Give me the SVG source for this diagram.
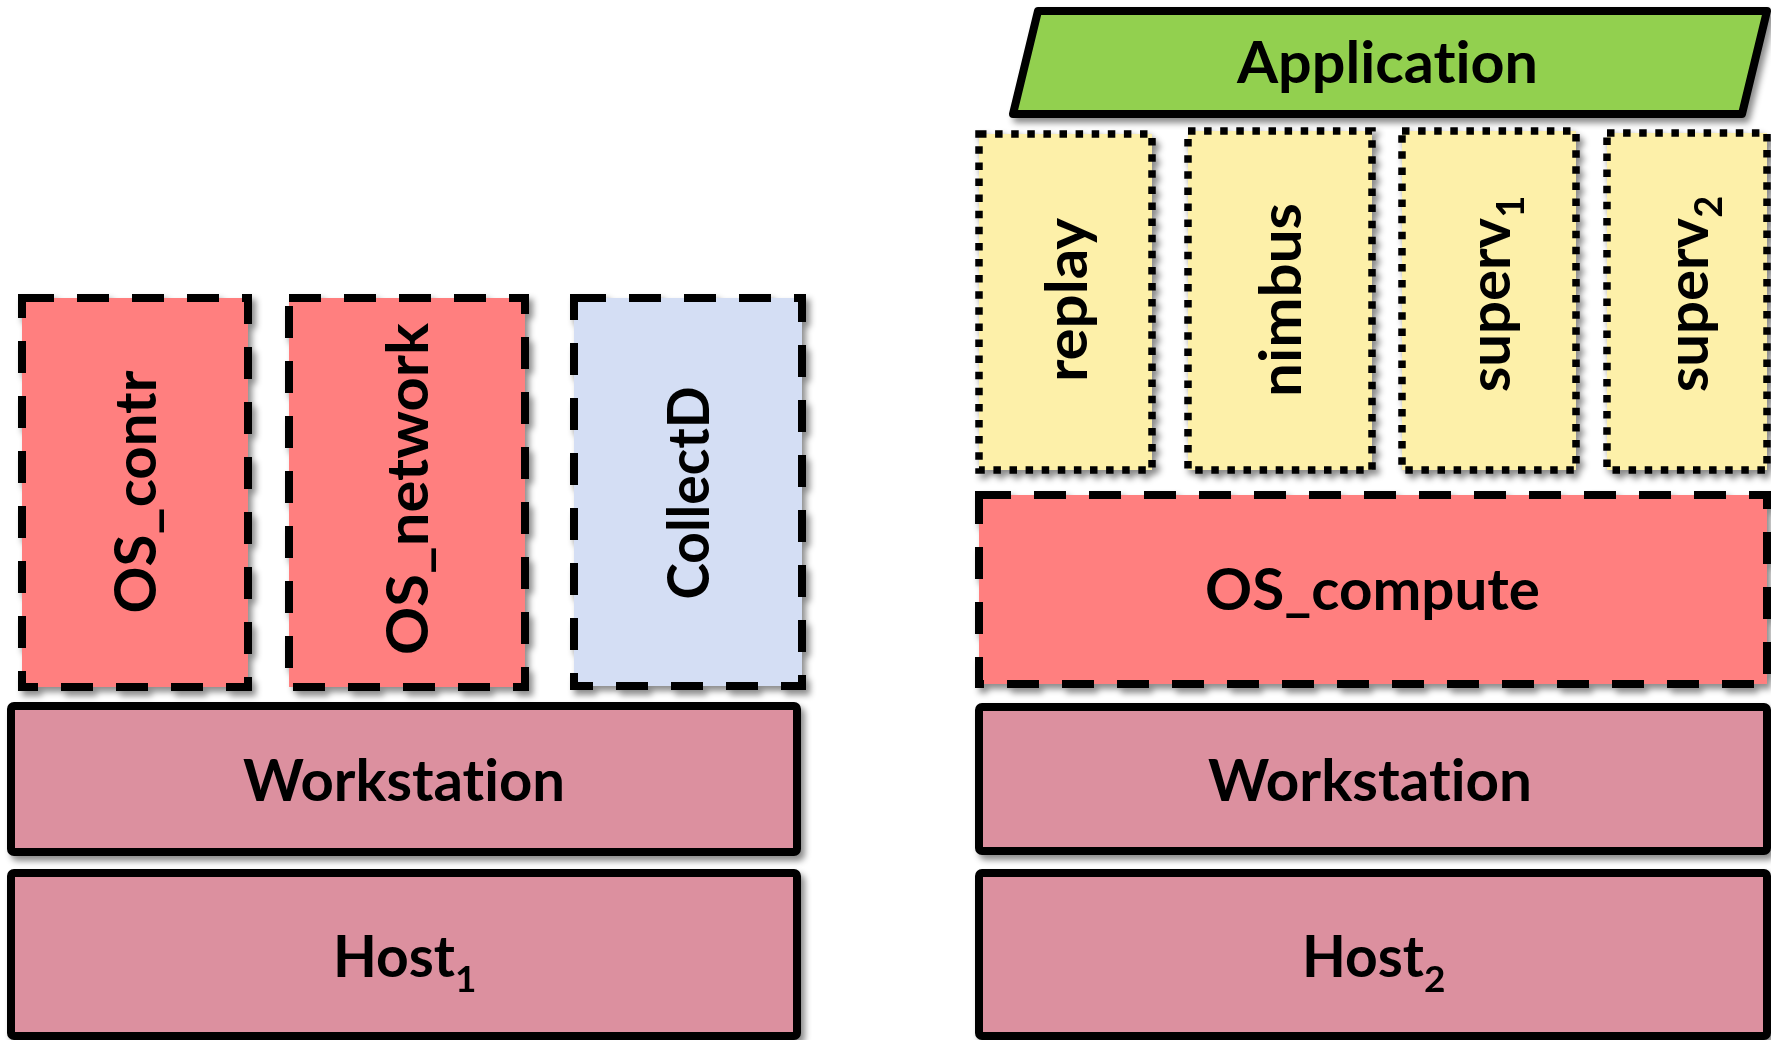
<svg xmlns="http://www.w3.org/2000/svg" width="1771" height="1040" viewBox="0 0 1771 1040">
  <defs>
    <filter id="shadow" x="-10%" y="-10%" width="125%" height="125%">
      <feDropShadow dx="4" dy="5" stdDeviation="3" flood-color="#000" flood-opacity="0.45"/>
    </filter>
    <style>
      .lbl { font-family: Lato, "Liberation Sans", sans-serif; font-weight: 700; fill: #000; font-variant-ligatures: none; font-feature-settings: "liga" 0, "clig" 0; }
      .solid { stroke: #000; stroke-width: 8; stroke-linejoin: round; }
      .dashed { stroke: #000; stroke-width: 8; stroke-dasharray: 32 23; }
      .dotted { stroke: #000; stroke-width: 7.5; stroke-dasharray: 7.5 8.6; }
      .os { fill: #FF7F7F; }
      .collect { fill: #D4DEF4; }
      .proc { fill: #FDF0A9; }
      .hw { fill: #DC909F; }
      .app { fill: #92D050; }
    </style>
  </defs>

  <rect width="1771" height="1040" fill="#FFFFFF"/>

  <!-- Host 1 stack -->
  <g id="os-contr" filter="url(#shadow)">
    <rect class="os dashed" x="22" y="298" width="226" height="389"/>
    <text class="lbl" font-size="57" text-anchor="middle" textLength="243" lengthAdjust="spacingAndGlyphs" transform="translate(135,492) rotate(-90)" x="0" y="21">OS_contr</text>
  </g>
  <g id="os-network" filter="url(#shadow)">
    <rect class="os dashed" x="289" y="298" width="236" height="389"/>
    <text class="lbl" font-size="57" text-anchor="middle" textLength="332" lengthAdjust="spacingAndGlyphs" transform="translate(407,489) rotate(-90)" x="0" y="21">OS_network</text>
  </g>
  <g id="collectd" filter="url(#shadow)">
    <rect class="collect dashed" x="574" y="298" width="228" height="388"/>
    <text class="lbl" font-size="57" text-anchor="middle" textLength="213" lengthAdjust="spacingAndGlyphs" transform="translate(688,493) rotate(-90)" x="0" y="21">CollectD</text>
  </g>
  <g id="workstation-1" filter="url(#shadow)">
    <rect class="hw solid" x="11" y="706" width="786" height="146" rx="3"/>
    <text class="lbl" font-size="57" x="243" y="801" textLength="322" lengthAdjust="spacingAndGlyphs">Workstation</text>
  </g>
  <g id="host-1" filter="url(#shadow)">
    <rect class="hw solid" x="11" y="873" width="786" height="163" rx="3"/>
    <text class="lbl" font-size="57" x="333" y="977">Host<tspan font-size="37" dy="15">1</tspan></text>
  </g>

  <!-- Host 2 stack -->
  <g id="application" filter="url(#shadow)">
    <polygon class="app solid" points="1038,11 1767,11 1742,114 1013,114"/>
    <text class="lbl" font-size="57" x="1237" y="83" textLength="301" lengthAdjust="spacingAndGlyphs">Application</text>
  </g>
  <g id="replay" filter="url(#shadow)">
    <rect class="proc dotted" x="979" y="134" width="173" height="336"/>
    <text class="lbl" font-size="57" text-anchor="middle" textLength="164" lengthAdjust="spacingAndGlyphs" transform="translate(1066,300) rotate(-90)" x="0" y="21">replay</text>
  </g>
  <g id="nimbus" filter="url(#shadow)">
    <rect class="proc dotted" x="1188" y="131" width="184" height="339"/>
    <text class="lbl" font-size="57" text-anchor="middle" textLength="194" lengthAdjust="spacingAndGlyphs" transform="translate(1280,300) rotate(-90)" x="0" y="21">nimbus</text>
  </g>
  <g id="superv-1" filter="url(#shadow)">
    <rect class="proc dotted" x="1402" y="131" width="174" height="339"/>
    <text class="lbl" font-size="58" text-anchor="middle" transform="translate(1489,294) rotate(-90)" x="0" y="21">superv<tspan font-size="38" dy="14">1</tspan></text>
  </g>
  <g id="superv-2" filter="url(#shadow)">
    <rect class="proc dotted" x="1607" y="133" width="160" height="337"/>
    <text class="lbl" font-size="58" text-anchor="middle" transform="translate(1687,294) rotate(-90)" x="0" y="21">superv<tspan font-size="38" dy="14">2</tspan></text>
  </g>
  <g id="os-compute" filter="url(#shadow)">
    <rect class="os dashed" x="979" y="495" width="788" height="189"/>
    <text class="lbl" font-size="57" x="1205" y="610" textLength="335" lengthAdjust="spacingAndGlyphs">OS_compute</text>
  </g>
  <g id="workstation-2" filter="url(#shadow)">
    <rect class="hw solid" x="979" y="707" width="788" height="144" rx="3"/>
    <text class="lbl" font-size="57" x="1208" y="801" textLength="324" lengthAdjust="spacingAndGlyphs">Workstation</text>
  </g>
  <g id="host-2" filter="url(#shadow)">
    <rect class="hw solid" x="979" y="873" width="788" height="163" rx="3"/>
    <text class="lbl" font-size="57" x="1302" y="977">Host<tspan font-size="37" dy="15">2</tspan></text>
  </g>

  <!-- the layers simply stack; there are no connectors -->
  <g id="connectors"/>
</svg>
